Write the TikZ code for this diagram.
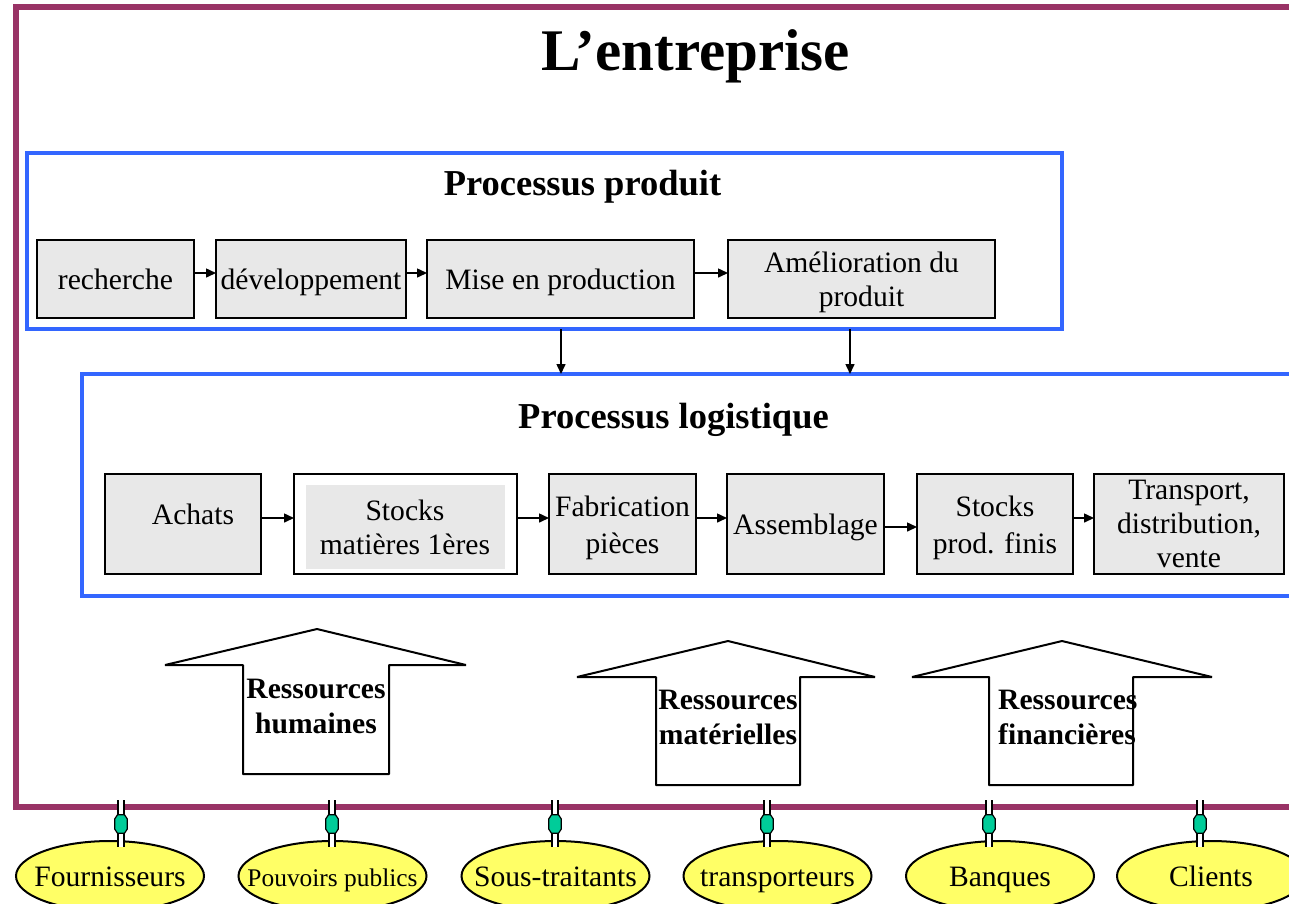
\documentclass[tikz,border=0pt]{standalone}
\usepackage{fontspec}
\setmainfont{Liberation Serif}
\usetikzlibrary{arrows.meta,shapes.geometric,calc}
\definecolor{framecol}{HTML}{993366}
\definecolor{pblue}{HTML}{3366FF}
\definecolor{boxgray}{HTML}{E8E8E8}
\definecolor{ellyellow}{HTML}{FFFF66}
\definecolor{gemgreen}{HTML}{00CC99}
\newcommand{\lowstrut}{\rule{0pt}{28pt}}
\begin{document}
\begin{tikzpicture}[x=1pt,y=-1pt,
 body/.style={font=\fontsize{29.6}{34}\selectfont},
 wide/.style={font=\fontsize{29.6}{37}\selectfont},
 proc/.style={draw=black,line width=2pt,fill=boxgray,inner sep=0pt,outer sep=0pt,align=center,body},
 oneline/.style={text height=20pt,text depth=0pt},
 lane/.style={draw=pblue,line width=4pt,inner sep=0pt,outer sep=0pt},
 flow/.style={line width=1.5pt,-{Triangle[length=10pt,width=9pt]}},
 res/.style={draw=black,line width=2pt,fill=white,line join=bevel},
 restext/.style={font=\bfseries\fontsize{29.6}{34.5}\selectfont,align=center,inner sep=0pt},
 partner/.style={ellipse,draw=black,line width=2pt,fill=ellyellow,minimum width=188pt,minimum height=70pt,inner sep=0pt,body,text height=20pt,text depth=0pt},
 link/.style={draw=black,line width=1.7pt,double=white,double distance=4pt},
 gemnode/.style={inner sep=0pt,minimum width=12pt,minimum height=18pt},
 gemline/.style={draw=black,line width=1.2pt,fill=gemgreen,line join=round}
]
\useasboundingbox (0,0) rectangle (1289,903);
\clip (0,0) rectangle (1289,903);
\fill[white] (0,0) rectangle (1289,903);

% outer frame
\draw[draw=framecol,line width=6pt] (16,7) rectangle (1300,807);
\node[anchor=base,inner sep=0pt,font=\bfseries\fontsize{59}{64}\selectfont] (title) at (696,70) {L’entreprise};

% product process
\node[lane,minimum width=1035pt,minimum height=176.5pt] (pp) at (544.5,240.75) {};
\node[anchor=base,inner sep=0pt,font=\bfseries\fontsize{36.5}{40}\selectfont] (pptitle) at (582.5,195) {Processus produit};
\node[proc,oneline,minimum width=157pt,minimum height=78pt] (rech) at (115.5,279) {recherche};
\node[proc,oneline,minimum width=190pt,minimum height=78pt] (dev) at (311,279) {développement};
\node[proc,oneline,minimum width=267pt,minimum height=78pt] (mise) at (560.5,279) {Mise en production};
\node[proc,minimum width=267pt,minimum height=78pt] (amel) at (861.5,279) {\lowstrut Amélioration du\\produit};
\draw[flow] ($(rech.east)+(0,-6)$) -- ($(dev.west)+(0,-6)$);
\draw[flow] ($(dev.east)+(0,-6)$) -- ($(mise.west)+(0,-6)$);
\draw[flow] ($(mise.east)+(0,-6)$) -- ($(amel.west)+(0,-6)$);

% logistic process
\node[lane,minimum width=1218pt,minimum height=222pt] (pl) at (691,485) {};
\node[anchor=base,inner sep=0pt,font=\bfseries\fontsize{36.5}{40}\selectfont] (pltitle) at (673.5,428) {Processus logistique};
\coordinate (d1) at (561,329);
\coordinate (d2) at (850,329);
\draw[flow] (d1) -- (d1 |- pl.north);
\draw[flow] (d2) -- (d2 |- pl.north);

\node[proc,text height=10pt,text depth=10pt,minimum width=156pt,minimum height=100pt] (achats) at (183,524) {\hspace*{20pt}Achats};
\node[draw=black,line width=2pt,fill=white,inner sep=0pt,outer sep=0pt,minimum width=223pt,minimum height=100pt] (stm) at (405.5,524) {};
\node[fill=boxgray,inner sep=0pt,align=center,body,minimum width=199pt,minimum height=84pt] (stmi) at (405,527) {Stocks\\matières 1ères};
\node[proc,wide,minimum width=147pt,minimum height=100pt] (fab) at (622.5,524) {\lowstrut Fabrication\\pièces};
\node[proc,oneline,minimum width=157pt,minimum height=100pt] (ass) at (805.5,524) {Assemblage};
\node[proc,wide,minimum width=156pt,minimum height=100pt] (spf) at (995,524) {\lowstrut Stocks\\prod. finis};
\node[proc,minimum width=190pt,minimum height=100pt] (trans) at (1189,524) {Transport,\\distribution,\\vente};
\draw[flow] ($(achats.east)+(0,-6)$) -- ($(stm.west)+(0,-6)$);
\draw[flow] ($(stm.east)+(0,-6)$) -- ($(fab.west)+(0,-6)$);
\draw[flow] ($(fab.east)+(0,-6)$) -- ($(ass.west)+(0,-6)$);
\draw[flow] ($(ass.east)+(0,3)$) -- ($(spf.west)+(0,3)$);
\draw[flow] ($(spf.east)+(0,-6)$) -- ($(trans.west)+(0,-6)$);

% resource arrows
\draw[res] (243,774) -- (243,665) -- (165,665) -- (317,629) -- (466,665) -- (389,665) -- (389,774) -- cycle;
\node[restext] (rh) at (316,706.5) {Ressources\\humaines};
\draw[res] (656,785) -- (656,677) -- (577,677) -- (728,641) -- (875,677) -- (800,677) -- (800,785) -- cycle;
\node[restext] (rm) at (728,717.5) {Ressources\\matérielles};
\draw[res] (989,785) -- (989,677) -- (912,677) -- (1062,641) -- (1212,677) -- (1133,677) -- (1133,785) -- cycle;
\node[restext,align=left,anchor=west] (rf) at (998,717.5) {Ressources\\financières};

% partners
\node[partner] (e1) at (110,876) {\makebox[0pt]{Fournisseurs}};
\node[partner,font=\fontsize{25.4}{30}\selectfont] (e2) at (332.5,876) {\makebox[0pt]{Pouvoirs publics}};
\node[partner] (e3) at (555.5,876) {\makebox[0pt]{Sous-traitants}};
\node[partner] (e4) at (777.5,876) {\makebox[0pt]{transporteurs}};
\node[partner] (e5) at (1000,876) {\makebox[0pt]{Banques}};
\node[partner] (e6) at (1211,876) {\makebox[0pt]{Clients}};

\foreach \i/\x in {1/121,2/332,3/555,4/767,5/989,6/1200}{
  \coordinate (f\i) at (\x,800);
  \draw[link] (f\i) -- ($(f\i |- e\i.north)+(0,7)$);
  \node[gemnode] (g\i) at (\x,824) {};
  \draw[gemline] ($(g\i.north)+(-3.5,0)$) -- ($(g\i.north west)+(0,4)$) -- ($(g\i.south west)+(0,-4)$)
     -- ($(g\i.south)+(-3.5,0)$) -- ($(g\i.south)+(3.5,0)$) -- ($(g\i.south east)+(0,-4)$)
     -- ($(g\i.north east)+(0,4)$) -- ($(g\i.north)+(3.5,0)$) -- cycle;
}
\end{tikzpicture}
\end{document}
